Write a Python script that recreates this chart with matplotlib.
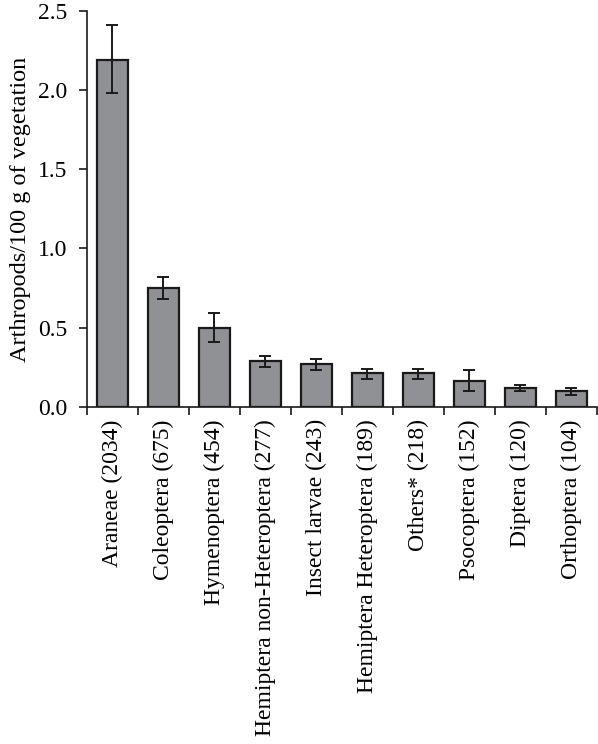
import matplotlib
matplotlib.use("Agg")
import matplotlib.pyplot as plt
import numpy as np

categories = [
    "Araneae (2034)", "Coleoptera (675)", "Hymenoptera (454)",
    "Hemiptera non-Heteroptera (277)", "Insect larvae (243)",
    "Hemiptera Heteroptera (189)", "Others* (218)", "Psocoptera (152)",
    "Diptera (120)", "Orthoptera (104)",
]
means = [2.19, 0.75, 0.50, 0.29, 0.27, 0.21, 0.21, 0.165, 0.12, 0.10]
err_hi = [2.41, 0.82, 0.59, 0.32, 0.30, 0.237, 0.237, 0.234, 0.139, 0.118]
err_lo = [1.98, 0.68, 0.41, 0.253, 0.234, 0.175, 0.175, 0.10, 0.10, 0.072]
y_ticks = [0.0, 0.5, 1.0, 1.5, 2.0, 2.5]

plt.rcParams["font.family"] = "serif"
plt.rcParams["font.serif"] = ["Liberation Serif", "DejaVu Serif"]

fig = plt.figure(figsize=(5.98, 7.44), dpi=100)
ax = fig.add_axes([0.1455, 0.4534, 0.8525, 0.5316])

x = np.arange(len(categories))
means_a = np.array(means)
yerr = [means_a - np.array(err_lo), np.array(err_hi) - means_a]

ax.bar(x, means, width=0.61, color="#909195", edgecolor="#1a1a1a",
       linewidth=1.6, zorder=2)
ax.errorbar(x, means, yerr=yerr, fmt="none", ecolor="#1a1a1a",
            elinewidth=1.4, capsize=4, capthick=1.4, zorder=3)

ax.set_xlim(-0.5, len(categories) - 0.5)
ax.set_ylim(0, 2.5)
ax.set_yticks(y_ticks)
ax.set_yticklabels([f"{v:.1f}" for v in y_ticks], fontsize=17)
ax.set_ylabel("Arthropods/100 g of vegetation", fontsize=17.5, labelpad=5)

# category labels centred on bars, tick marks at the boundaries
ax.set_xticks(x)
ax.set_xticklabels(categories, rotation=90, fontsize=17)
ax.tick_params(axis="x", which="major", length=0, pad=9)
ax.set_xticks(np.arange(-0.5, len(categories)), minor=True)
ax.tick_params(axis="x", which="minor", length=6, width=1.2, direction="out",
               color="#1a1a1a")
ax.tick_params(axis="y", length=6, width=1.2, direction="out",
               color="#1a1a1a", pad=8)

for side in ("top", "right"):
    ax.spines[side].set_visible(False)
for side in ("left", "bottom"):
    ax.spines[side].set_linewidth(1.2)
    ax.spines[side].set_color("#1a1a1a")

fig.savefig("out.png", dpi=100)
